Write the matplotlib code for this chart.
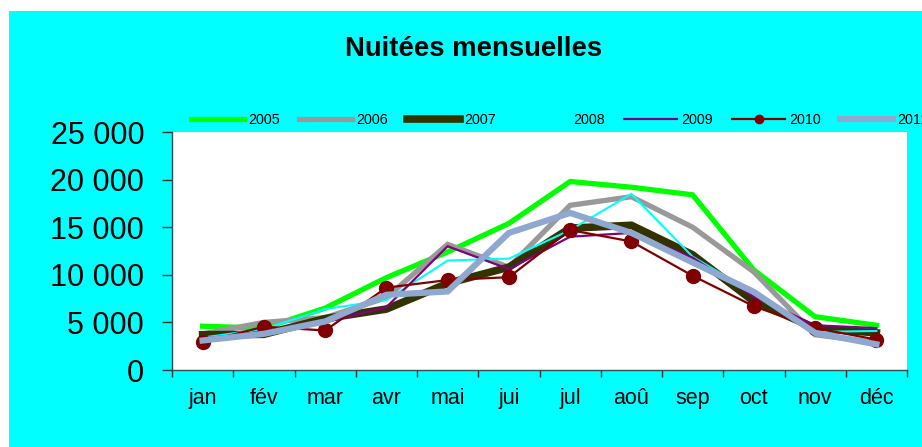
import matplotlib
matplotlib.use("Agg")
import matplotlib.pyplot as plt
from matplotlib.patches import Rectangle
import numpy as np

plt.rcParams['font.family'] = ['Liberation Sans', 'DejaVu Sans']

months = ['jan', 'fév', 'mar', 'avr', 'mai', 'jui', 'jul', 'aoû', 'sep', 'oct', 'nov', 'déc']

s2005 = [4600, 4400, 6500, 9700, 12400, 15400, 19800, 19200, 18400, 10500, 5600, 4700]
s2006 = [3800, 5000, 5500, 7600, 13200, 10800, 17300, 18200, 15000, 10300, 3700, 2900]
s2007 = [3700, 3750, 5400, 6400, 9100, 10800, 14900, 15200, 12100, 7200, 4400, 3900]
s2008 = [3400, 4300, 6400, 7350, 11500, 11700, 14700, 18500, 11900, 8100, 4000, 4100]
s2009 = [3300, 4000, 5000, 6600, 13000, 10600, 14000, 14400, 11800, 7700, 4700, 4400]
s2010 = [2900, 4550, 4150, 8650, 9450, 9750, 14700, 13500, 9900, 6700, 4400, 3200]
s2011 = [3100, 3800, 5100, 7900, 8250, 14400, 16500, 14400, 11300, 8200, 3900, 2700]

series_names = ['2005', '2006', '2007', '2008', '2009', '2010', '2011']
series_values = [s2005, s2006, s2007, s2008, s2009, s2010, s2011]

y_ticks = [0, 5000, 10000, 15000, 20000, 25000]
y_tick_labels = ['0', '5 000', '10 000', '15 000', '20 000', '25 000']

title = 'Nuitées mensuelles'

styles = {
    '2005': dict(color='#00FF00', lw=3.8),
    '2006': dict(color='#999999', lw=3.8),
    '2007': dict(color='#333300', lw=5.5),
    '2008': dict(color='#00FFFF', lw=1.5),
    '2009': dict(color='#800080', lw=1.6),
    '2010': dict(color='#800000', lw=1.6, marker='o', markersize=10),
    '2011': dict(color='#8FA8D0', lw=4.5),
}

W, H = 922, 447
fig = plt.figure(figsize=(W / 100, H / 100), dpi=100, facecolor='white')
fig.patches.append(Rectangle((9 / W, 0), (W - 9) / W, (H - 11) / H,
                             transform=fig.transFigure, facecolor='#00FFFF',
                             edgecolor='none', zorder=-10))

ax = fig.add_axes([172 / W, (H - 370) / H, 735 / W, 238 / H])
ax.set_facecolor('white')

x = np.arange(len(months))
handles = []
for name, vals in zip(series_names, series_values):
    st = styles[name]
    h, = ax.plot(x, vals, solid_joinstyle='miter', label=name, **st)
    handles.append(h)

ax.set_xlim(-0.5, len(months) - 0.5)
ax.set_ylim(0, 25000)
ax.set_yticks(y_ticks)
ax.set_yticklabels(y_tick_labels, fontsize=22)
ax.set_xticks(x)
ax.set_xticklabels(months, fontsize=15.5)
ax.set_xticks(np.arange(-0.5, len(months), 1), minor=True)
ax.tick_params(axis='x', which='major', length=0, pad=13)
ax.tick_params(axis='x', which='minor', length=5, width=1, color='#333333', direction='out')
ax.tick_params(axis='y', length=7, width=1, color='#333333', direction='out', pad=13)

for sp in ['top', 'right']:
    ax.spines[sp].set_visible(False)
for sp in ['left', 'bottom']:
    ax.spines[sp].set_color('#2F4F4F')
    ax.spines[sp].set_linewidth(1)

fig.text(474 / W, 1 - 49 / H, title, ha='center', va='center',
         fontsize=19.8, fontweight='bold')

leg = fig.legend(handles=handles, loc='center left',
                 bbox_to_anchor=(191 / W, 1 - 120 / H), ncol=7,
                 frameon=False, fontsize=10.3, handlelength=3.7,
                 handletextpad=0.3, columnspacing=1.35, borderpad=0,
                 borderaxespad=0, markerscale=0.6)

fig.savefig('out.png', dpi=100, facecolor='white')
